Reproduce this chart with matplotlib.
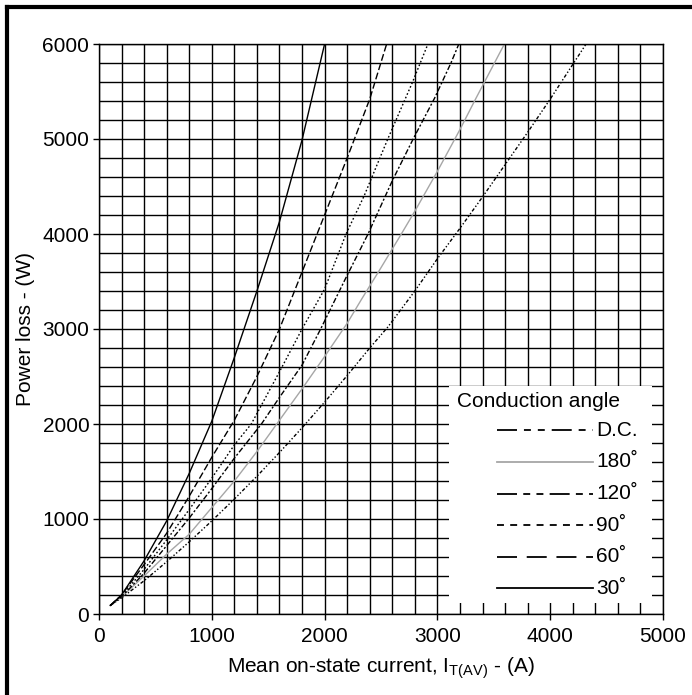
import matplotlib
matplotlib.use("Agg")
import matplotlib.pyplot as plt
from matplotlib.lines import Line2D
from matplotlib.patches import Rectangle
from matplotlib.ticker import MultipleLocator

plt.rcParams['font.family'] = ['Liberation Sans', 'DejaVu Sans']
plt.rcParams['mathtext.fontset'] = 'custom'
plt.rcParams['mathtext.rm'] = 'Liberation Sans'
plt.rcParams['lines.scale_dashes'] = False

# curves: mean current (A) vs power loss (W)
cur_30 = [100, 200, 400, 600, 800, 1000, 1200, 1400, 1600, 1800, 2000]
pow_30 = [90, 200, 560, 980, 1480, 2030, 2700, 3400, 4130, 4990, 6000]

cur_60 = [100, 200, 400, 600, 800, 1000, 1200, 1400, 1600, 1800, 2000, 2200, 2400, 2550]
pow_60 = [90, 200, 520, 850, 1240, 1650, 2040, 2500, 3000, 3600, 4200, 4800, 5420, 6000]

cur_90 = [100, 200, 400, 600, 800, 1000, 1200, 1350, 1600, 1800, 2000, 2190, 2350, 2560, 2780, 2916]
pow_90 = [90, 190, 470, 780, 1100, 1430, 1780, 2000, 2550, 3000, 3420, 4000, 4400, 5000, 5600, 6000]

cur_120 = [100, 200, 400, 600, 800, 1000, 1200, 1440, 1600, 1800, 1965, 2185, 2385, 2600, 2785, 2975, 3120, 3190]
pow_120 = [90, 180, 430, 720, 1010, 1320, 1640, 2000, 2280, 2620, 3000, 3530, 4000, 4560, 5000, 5430, 5800, 6000]

cur_180 = [100, 200, 400, 600, 800, 1000, 1200, 1400, 1600, 1800, 2000, 2200, 2326, 2487, 2670, 2800, 3000, 3200, 3338, 3594]
pow_180 = [90, 180, 400, 630, 840, 1120, 1400, 1710, 2040, 2370, 2710, 3060, 3310, 3620, 3980, 4240, 4660, 5100, 5420, 6000]

cur_dc = [100, 200, 400, 600, 800, 1000, 1200, 1400, 1600, 1800, 2000, 2200, 2400, 2560, 2800, 3000, 3200, 3400, 3600, 3800, 4000, 4318]
pow_dc = [90, 170, 350, 550, 760, 980, 1210, 1450, 1700, 1960, 2230, 2510, 2800, 3020, 3400, 3740, 4060, 4390, 4730, 5070, 5420, 6000]

labels = ["D.C.", "180˚", "120˚", "90˚", "60˚", "30˚"]
currents = [cur_dc, cur_180, cur_120, cur_90, cur_60, cur_30]
powers = [pow_dc, pow_180, pow_120, pow_90, pow_60, pow_30]
colors = ["black", "#a6a6a6", "black", "black", "black", "black"]
plot_styles = [(0, (2.5, 1.5, 1, 1.5, 1, 1.5)), "-", (0, (4, 1.5, 1.5, 1.5)),
               (0, (1.2, 1.6)), (0, (5, 2)), "-"]
legend_styles = [(0, (14.4, 5, 5, 5, 5, 5)), "-", (0, (14.4, 4.5, 5, 4.5, 5, 4.5)),
                 (0, (5, 4.5)), (0, (14.4, 7)), "-"]

fig = plt.figure(figsize=(6.92, 6.95), dpi=100)
ax = fig.add_axes([99 / 692, 1 - 614 / 695, 564 / 692, 570 / 695])

for c, p, col, ls in zip(currents, powers, colors, plot_styles):
    ax.plot(c, p, color=col, linestyle=ls, linewidth=1.0, zorder=2)

ax.set_xlim(0, 5000)
ax.set_ylim(0, 6000)
ax.xaxis.set_major_locator(MultipleLocator(1000))
ax.yaxis.set_major_locator(MultipleLocator(1000))
ax.xaxis.set_minor_locator(MultipleLocator(200))
ax.yaxis.set_minor_locator(MultipleLocator(200))
ax.set_axisbelow(True)
ax.grid(which="both", color="black", linewidth=1.0)
ax.tick_params(which="major", direction="out", length=4, width=1, labelsize=15, pad=3)
ax.tick_params(axis="x", which="major", pad=5)
ax.tick_params(which="minor", length=0)
for s in ax.spines.values():
    s.set_linewidth(1.0)

ax.set_xlabel(r"Mean on-state current, I$_{\mathrm{T(AV)}}$ - (A)", fontsize=15, labelpad=7)
ax.set_ylabel("Power loss - (W)", fontsize=15, labelpad=5)

# legend box drawn by hand over the grid
ax.add_patch(Rectangle((0.621, 0.019), 0.36, 0.381, transform=ax.transAxes,
                       facecolor="white", edgecolor="none", zorder=1.5))
ax.text(0.635, 0.372, "Conduction angle", transform=ax.transAxes, fontsize=15,
        ha="left", va="center", zorder=3)
for i in range(len(labels)):
    yy = 0.322 - i * 0.0553
    ax.add_line(Line2D([0.706, 0.876], [yy, yy], transform=ax.transAxes,
                       color=colors[i], linestyle=legend_styles[i], linewidth=1.3, zorder=3))
    ax.text(0.881, yy, labels[i], transform=ax.transAxes, fontsize=15,
            ha="left", va="center", zorder=3)

# outer frame (only left and top edges show in the original)
fig.add_artist(Line2D([0.0095, 0.0095], [0, 0.9905], transform=fig.transFigure,
                      color="black", linewidth=3))
fig.add_artist(Line2D([0.0095, 1], [0.9905, 0.9905], transform=fig.transFigure,
                      color="black", linewidth=3))

fig.savefig("out.png", dpi=100)
